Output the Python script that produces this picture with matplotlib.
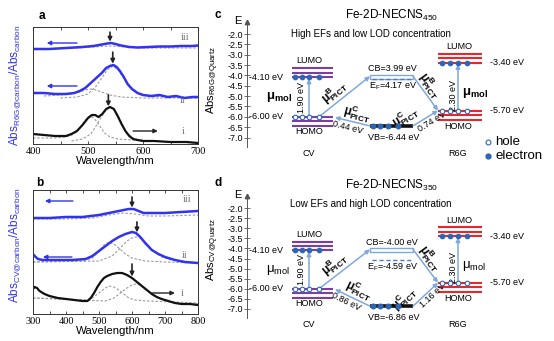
import matplotlib.pyplot as plt
import numpy as np

plt.rcParams['font.family'] = ['Liberation Sans', 'DejaVu Sans']
plt.rcParams['mathtext.fontset'] = 'custom'
plt.rcParams['mathtext.rm'] = 'Liberation Sans'
plt.rcParams['mathtext.it'] = 'Liberation Sans:italic'
plt.rcParams['mathtext.bf'] = 'Liberation Sans:bold'
plt.rcParams['mathtext.default'] = 'regular'
plt.rcParams['axes.unicode_minus'] = False

# ---------------- absorbance spectra (a.u.) ----------------
# panel a : R6G
wl_a_i = [400, 420, 440, 460, 470, 480, 490, 500, 507, 513, 519, 526, 533, 540, 547, 554, 561, 568, 575, 582, 590, 600, 620, 650, 680, 700]
abs_a_i = [10, 9, 8, 8, 10, 13, 19, 26, 29, 29, 27, 30, 35, 37, 35, 28, 20, 13, 8, 5, 4, 3, 3, 2, 2, 1]
wl_a_i1 = [400, 440, 460, 475, 485, 495, 503, 511, 520, 530, 540, 555, 580, 620, 700]
abs_a_i1 = [6, 6, 7, 10, 16, 24, 28, 26, 19, 11, 7, 5, 4, 3, 1]
wl_a_i2 = [470, 490, 505, 516, 525, 533, 540, 547, 555, 563, 572, 585, 610, 650, 700]
abs_a_i2 = [3, 5, 10, 19, 28, 34, 37, 35, 28, 19, 10, 5, 3, 2, 1]

wl_a_ii = [400, 420, 440, 460, 475, 485, 495, 505, 515, 525, 533, 540, 546, 552, 558, 565, 572, 580, 590, 600, 615, 630, 645, 660, 675, 690, 700]
abs_a_ii = [51, 51, 50, 50, 51, 53, 56, 61, 66, 71, 76, 78, 79, 77, 73, 67, 60, 55, 51, 49, 48, 49, 47, 48, 46, 47, 47]
wl_a_ii1 = [420, 450, 470, 485, 495, 505, 515, 525, 540, 560, 600, 700]
abs_a_ii1 = [48, 49, 50, 52, 54, 55, 54, 52, 49, 47, 46, 46]
wl_a_ii2 = [450, 480, 500, 515, 525, 535, 545, 555, 565, 575, 590, 610, 650, 700]
abs_a_ii2 = [46, 47, 50, 58, 66, 74, 78, 74, 66, 58, 51, 48, 47, 46]

wl_a_iii = [400, 430, 460, 490, 510, 525, 535, 542, 550, 560, 575, 590, 610, 630, 650, 670, 690, 700]
abs_a_iii = [95, 95, 96, 97, 98, 99.5, 100.5, 101, 100, 98.5, 97, 96.5, 97, 97.5, 97.5, 98, 98, 98.5]
wl_a_iii1 = [400, 480, 510, 540, 570, 600, 700]
abs_a_iii1 = [95, 96, 97, 98, 97, 96, 96]

# panel b : CV
wl_b_i = [300, 305, 312, 320, 335, 350, 375, 400, 425, 450, 465, 475, 485, 495, 505, 515, 525, 540, 555, 570, 585, 600, 615, 630, 645, 660, 675, 690, 710, 730, 750, 775, 800]
abs_b_i = [25, 27, 26, 23, 20, 18, 16, 15, 14, 13, 13, 16, 21, 27, 32, 36, 38, 40, 41, 41, 39, 36, 32, 28, 24, 20, 17, 15, 13, 11, 10, 10, 9]
wl_b_i1 = [300, 400, 460, 480, 500, 515, 530, 545, 560, 575, 590, 610, 650, 800]
abs_b_i1 = [16, 15, 14, 16, 21, 25, 28, 27, 24, 20, 16, 14, 13, 11]
wl_b_i2 = [300, 450, 520, 545, 565, 585, 600, 612, 625, 640, 660, 680, 700, 730, 800]
abs_b_i2 = [16, 14, 13, 16, 21, 26, 29, 30, 29, 25, 20, 16, 13, 11, 10]

wl_b_ii = [300, 305, 315, 330, 350, 380, 420, 460, 480, 500, 520, 540, 560, 580, 600, 612, 625, 640, 660, 680, 700, 730, 760, 800]
abs_b_ii = [60, 58, 55, 54, 54, 54, 54, 55, 58, 63, 68, 73, 77, 80, 82, 81, 77, 71, 64, 60, 57, 54, 52, 51]
wl_b_ii1 = [300, 450, 480, 500, 515, 530, 545, 560, 580, 600, 640, 700, 800]
abs_b_ii1 = [52, 53, 56, 63, 69, 72, 70, 66, 60, 56, 53, 52, 51]
wl_b_ii2 = [300, 500, 540, 565, 585, 600, 612, 625, 645, 665, 690, 720, 800]
abs_b_ii2 = [52, 53, 58, 66, 73, 76, 77, 76, 70, 63, 57, 54, 51]

wl_b_iii = [300, 350, 400, 450, 500, 530, 560, 590, 605, 620, 635, 650, 700, 750, 800]
abs_b_iii = [96, 96, 97, 97, 99, 101, 103, 105, 105, 103, 101, 101, 101, 102, 103]
wl_b_iii1 = [300, 400, 480, 530, 570, 610, 650, 700, 800]
abs_b_iii1 = [95, 95, 96, 99, 101, 100, 98, 98, 99]

peaks_a = [537, 545, 540]   # i, ii, iii
peaks_b = [600, 615, 600]

# ---------------- energy levels (eV) : panel c, panel d ----------------
cv_lumo = [-4.10, -4.10]
cv_homo = [-6.00, -6.00]
r6g_lumo = [-3.40, -3.40]
r6g_homo = [-5.70, -5.70]
cb_level = [-3.99, -4.00]
ef_level = [-4.17, -4.59]
vb_level = [-6.44, -6.86]
sample_temp = ['450', '350']
subtitles = ['High EFs and low LOD concentration', 'Low EFs and high LOD concentration']

W, H = 554, 341
fig = plt.figure(figsize=(W / 100, H / 100), dpi=100)

BLUE = '#3232f2'
GREY = '#9b9b9b'
ARROW = '#7fa8dc'
DOT = '#2a66b5'
PURPLE = '#7d3f9f'
RED = '#e4282c'
SERIF = 'Liberation Serif'


def rect(x0, y0, x1, y1):
    return [x0 / W, 1 - y1 / H, (x1 - x0) / W, (y1 - y0) / H]


def ftext(x, y, s, **kw):
    fig.text(x / W, 1 - y / H, s, **kw)


def spectra(ax, xlim, ylim):
    ax.set_xlim(*xlim)
    ax.set_ylim(*ylim)
    ax.set_yticks([])
    ax.set_xticks(np.arange(xlim[0], xlim[1] + 1, 100))
    ax.set_xticks(np.arange(xlim[0], xlim[1] + 1, 50), minor=True)
    ax.tick_params(which='both', direction='in', top=True, length=2.5, width=0.6,
                   labelsize=7.5, pad=2, color='#333333')
    for lab in ax.get_xticklabels():
        lab.set_fontfamily(SERIF)
    for s in ax.spines.values():
        s.set_linewidth(0.7)
        s.set_color('#333333')
    ax.set_xlabel('Wavelength/nm', fontsize=8.2, labelpad=0)


def fits(ax, pairs):
    for x, y in pairs:
        ax.plot(x, y, color=GREY, lw=0.8, ls=(0, (2.2, 1.6)))


def peak_arrow(ax, wl, y, x, top):
    yt = np.interp(x, wl, y)
    ax.annotate('', xy=(x, yt + 1.5), xytext=(x, yt + top),
                arrowprops=dict(arrowstyle='-|>', color='#222222', lw=1.2,
                                mutation_scale=6, shrinkA=0, shrinkB=0))


def side_arrow(ax, x0, x1, y, color):
    ax.annotate('', xy=(x1, y), xytext=(x0, y),
                arrowprops=dict(arrowstyle='-|>', color=color, lw=1.0,
                                mutation_scale=6, shrinkA=0, shrinkB=0))


# ---- panel a ----
ax_a = fig.add_axes(rect(33, 27, 198, 144))
spectra(ax_a, (400, 700), (0, 117))
fits(ax_a, [(wl_a_i1, abs_a_i1), (wl_a_i2, abs_a_i2), (wl_a_ii1, abs_a_ii1),
            (wl_a_ii2, abs_a_ii2), (wl_a_iii1, abs_a_iii1)])
ax_a.plot(wl_a_i, abs_a_i, color='#111111', lw=1.6)
ax_a.plot(wl_a_ii, abs_a_ii, color=BLUE, lw=1.8)
ax_a.plot(wl_a_iii, abs_a_iii, color=BLUE, lw=1.8)
peak_arrow(ax_a, wl_a_i, abs_a_i, peaks_a[0], 13)
peak_arrow(ax_a, wl_a_ii, abs_a_ii, peaks_a[1], 13)
peak_arrow(ax_a, wl_a_iii, abs_a_iii, peaks_a[2], 11)
side_arrow(ax_a, 480, 425, 101, BLUE)
side_arrow(ax_a, 480, 425, 58, BLUE)
side_arrow(ax_a, 582, 627, 13, '#222222')
for txt, x, y in [('iii', 676, 107), ('ii', 673, 44), ('i', 673, 13)]:
    ax_a.text(x, y, txt, color='#7a7a7a', fontsize=7.5, family=SERIF, ha='center', va='center')

# ---- panel b ----
ax_b = fig.add_axes(rect(33, 190, 198, 314))
spectra(ax_b, (300, 800), (0, 124))
fits(ax_b, [(wl_b_i1, abs_b_i1), (wl_b_i2, abs_b_i2), (wl_b_ii1, abs_b_ii1),
            (wl_b_ii2, abs_b_ii2), (wl_b_iii1, abs_b_iii1)])
ax_b.plot(wl_b_i, abs_b_i, color='#111111', lw=1.6)
ax_b.plot(wl_b_ii, abs_b_ii, color=BLUE, lw=1.8)
ax_b.plot(wl_b_iii, abs_b_iii, color=BLUE, lw=1.8)
peak_arrow(ax_b, wl_b_i, abs_b_i, peaks_b[0], 14)
peak_arrow(ax_b, wl_b_ii, abs_b_ii, peaks_b[1], 12)
peak_arrow(ax_b, wl_b_iii, abs_b_iii, peaks_b[2], 12)
side_arrow(ax_b, 421, 336, 113, BLUE)
side_arrow(ax_b, 418, 330, 57, BLUE)
side_arrow(ax_b, 655, 730, 21, '#222222')
for txt, x, y in [('iii', 767, 114), ('ii', 761, 59), ('i', 752, 21)]:
    ax_b.text(x, y, txt, color='#7a7a7a', fontsize=7.5, family=SERIF, ha='center', va='center')

ftext(42, 16, 'a', fontsize=8.5, fontweight='bold', ha='center', va='center')
ftext(40, 183, 'b', fontsize=8.5, fontweight='bold', ha='center', va='center')
ftext(15, 85, r'Abs$_{\mathrm{R6G@carbon}}$/Abs$_{\mathrm{carbon}}$', color=BLUE,
      fontsize=8.5, rotation=90, ha='center', va='center')
ftext(15, 245, r'Abs$_{\mathrm{CV@carbon}}$/Abs$_{\mathrm{carbon}}$', color=BLUE,
      fontsize=8.5, rotation=90, ha='center', va='center')
ftext(213, 80, r'Abs$_{\mathrm{R6G@Quartz}}$', fontsize=8, rotation=90, ha='center', va='center')
ftext(213, 249, r'Abs$_{\mathrm{CV@Quartz}}$', fontsize=8, rotation=90, ha='center', va='center')


# ---------------- energy diagrams ----------------
def level(ax, x0, x1, e, color, step, dots, hollow):
    for k in range(3):
        ax.plot([x0, x1], [e + k * step] * 2, color=color, lw=1.5, solid_capstyle='butt')
    ax.plot(dots, [e] * len(dots), 'o', ms=3.3, mec=DOT, mew=0.8,
            mfc='white' if hollow else DOT, zorder=5)


def arrow(ax, p0, p1):
    ax.annotate('', xy=p1, xytext=p0,
                arrowprops=dict(arrowstyle='-|>', color=ARROW, lw=1.1,
                                mutation_scale=6, shrinkA=0, shrinkB=0))


def along(ax, p0, p1, frac, off, s, **kw):
    t = ax.transData
    a = t.transform(p0)
    b = t.transform(p1)
    d = b - a
    if d[0] < 0:
        d = -d
    ang = np.degrees(np.arctan2(d[1], d[0]))
    n = np.array([-d[1], d[0]]) / np.hypot(*d)
    pt = a + frac * (b - a) + off * n
    x, y = t.inverted().transform(pt)
    ax.text(x, y, s, rotation=ang, rotation_mode='anchor', ha='center', va='center', **kw)


def diagram(ax, k, y_top, px_per_ev, py0, py1):
    e_of = lambda py: -2 - (py - y_top) / px_per_ev
    ax.set_xlim(247, 554)
    ax.set_ylim(e_of(py1), e_of(py0))
    ax.patch.set_visible(False)
    for s in ['top', 'right', 'bottom']:
        ax.spines[s].set_visible(False)
    ax.spines['left'].set_bounds(-7.45, -1.5)
    ax.spines['left'].set_color('#555555')
    ax.spines['left'].set_linewidth(0.7)
    ax.plot([247], [-1.42], marker='^', ms=3.2, color='#555555', clip_on=False)
    ax.set_xticks([])
    ax.set_yticks(np.arange(-7.0, -1.99, 0.5))
    ax.yaxis.set_major_formatter('{x:.1f}')
    ax.tick_params(axis='y', direction='inout', length=5, width=0.6, labelsize=6.5,
                   pad=0.5, color='#555555')
    ax.text(238, -1.35, 'E', fontsize=8, ha='center', va='center')

    cvl, cvh = cv_lumo[k], cv_homo[k]
    rl, rh = r6g_lumo[k], r6g_homo[k]
    cb, ef, vb = cb_level[k], ef_level[k], vb_level[k]
    signed = k == 1
    bold = k == 0

    # molecular levels
    level(ax, 292, 333, cvl, PURPLE, 0.22, [295, 302, 309, 319], False)
    level(ax, 292, 333, cvh, PURPLE, -0.22, [295, 302, 309, 319], True)
    level(ax, 438, 482, rl, RED, 0.22, [442, 450, 458, 467], False)
    level(ax, 438, 482, rh, RED, -0.22, [442, 450, 458, 467], True)

    # semiconductor bands
    ax.add_patch(plt.Rectangle((370, cb - 0.18), 43, 0.18, fill=False, ec=ARROW, lw=1.0))
    ax.plot([372, 411], [ef, ef], color='#4a7ccc', lw=1.0, ls=(0, (3, 2)))
    ax.plot([370, 413], [vb, vb], color='#111111', lw=2.6, solid_capstyle='butt')
    ax.plot([373, 380, 388, 398], [vb] * 4, 'o', ms=3.3, color=DOT, zorder=5)

    # charge-transfer paths
    arrow(ax, (309, cvh), (309, cvl - 0.06))
    arrow(ax, (458, rh), (458, rl - 0.06))
    arrow(ax, (319, cvh), (370, cb - 0.05))
    arrow(ax, (413, cb - 0.05), (438, rh))
    arrow(ax, (370, vb), (335, cvh - 0.03))
    arrow(ax, (413, vb), (438, rh))

    fs = 6.5
    mu_b = r'$\mathbf{μ}^{\mathbf{B}}_{\mathbf{PICT}}$'
    mu_c = r'$\mathbf{μ}^{\mathbf{C}}_{\mathbf{PICT}}$'
    mu_mol = r'$\mathbf{μ}_{\mathbf{mol}}$' if bold else r'$μ_{mol}$'
    along(ax, (319, cvh), (370, cb), 0.42, 10, mu_b, fontsize=8.5)
    along(ax, (413, cb), (438, rh), 0.4, 8, mu_b, fontsize=8.5)
    along(ax, (370, vb), (335, cvh), 0.45, 9, mu_c, fontsize=8.5)
    along(ax, (413, vb), (438, rh), -0.05, 12, mu_c, fontsize=8.5)
    along(ax, (370, vb), (335, cvh), 0.6, -7, f'{cvh - vb:.2f} eV', fontsize=fs)
    along(ax, (413, vb), (438, rh), 0.62, -6, f'{rh - vb:.2f} eV', fontsize=fs)

    ax.text(302, (cvl + cvh) / 2, f'{cvl - cvh:.2f} eV', rotation=90, fontsize=fs,
            ha='center', va='center')
    ax.text(454, (rl + rh) / 2 - 0.4, f'{rl - rh:.2f} eV', rotation=90, fontsize=fs,
            ha='center', va='center')
    ax.text(266, (cvl + cvh) / 2, mu_mol, fontsize=9.5, ha='left', va='center')
    ax.text(462, (rl + rh) / 2 - 0.3, mu_mol, fontsize=9.5, ha='left', va='center')

    ax.text(249, cvl, f'{cvl:.2f} eV', fontsize=fs, ha='left', va='center')
    ax.text(249, cvh, f'{cvh:.2f} eV', fontsize=fs, ha='left', va='center')
    ax.text(490, rl, f'{rl:.2f} eV', fontsize=fs, ha='left', va='center')
    ax.text(490, rh, f'{rh:.2f} eV', fontsize=fs, ha='left', va='center')
    ax.text(309, cvl + 0.8, 'LUMO', fontsize=fs, ha='center', va='center')
    ax.text(309, cvh - 0.72, 'HOMO', fontsize=fs, ha='center', va='center')
    ax.text(459, rl + 0.8, 'LUMO', fontsize=fs, ha='center', va='center')
    ax.text(458, rh - 0.78, 'HOMO', fontsize=fs, ha='center', va='center')
    ax.text(309, -7.77, 'CV', fontsize=fs, ha='center', va='center')
    ax.text(458, -7.77, 'R6G', fontsize=fs, ha='center', va='center')

    cb_txt = cb if signed else abs(cb)
    ef_txt = ef if signed else abs(ef)
    ax.text(392, cb + 0.3, f'CB={cb_txt:.2f} eV', fontsize=fs, ha='center', va='center')
    ax.text(393, ef - 0.36, f'E$_F$={ef_txt:.2f} eV', fontsize=fs, ha='center', va='center')
    ax.text(394, vb - 0.58, f'VB={vb:.2f} eV', fontsize=fs, ha='center', va='center')


ax_c = fig.add_axes(rect(247, 10, 554, 165))
diagram(ax_c, 0, 34, 20.7, 10, 165)
ax_d = fig.add_axes(rect(247, 172, 554, 335))
diagram(ax_d, 1, 208, 20.2, 172, 335)

# carrier legend
ax_c.plot([488], [-7.22], 'o', ms=3.5, mec=DOT, mfc='white', mew=0.8, clip_on=False)
ax_c.plot([488], [-7.89], 'o', ms=3.5, color=DOT, clip_on=False)
ax_c.text(495, -7.22, 'hole', fontsize=9.5, ha='left', va='center')
ax_c.text(495, -7.89, 'electron', fontsize=9.5, ha='left', va='center')

ftext(218, 15, 'c', fontsize=8.5, fontweight='bold', ha='center', va='center')
ftext(218, 183, 'd', fontsize=8.5, fontweight='bold', ha='center', va='center')
for k, (yt, ys) in enumerate([(15, 34), (185, 204)]):
    ftext(392, yt, f'Fe-2D-NECNS$_{{{sample_temp[k]}}}$', fontsize=8.5, ha='center', va='center')
    ftext(371, ys, subtitles[k], fontsize=7, ha='center', va='center')

fig.savefig('out.png', dpi=100)
